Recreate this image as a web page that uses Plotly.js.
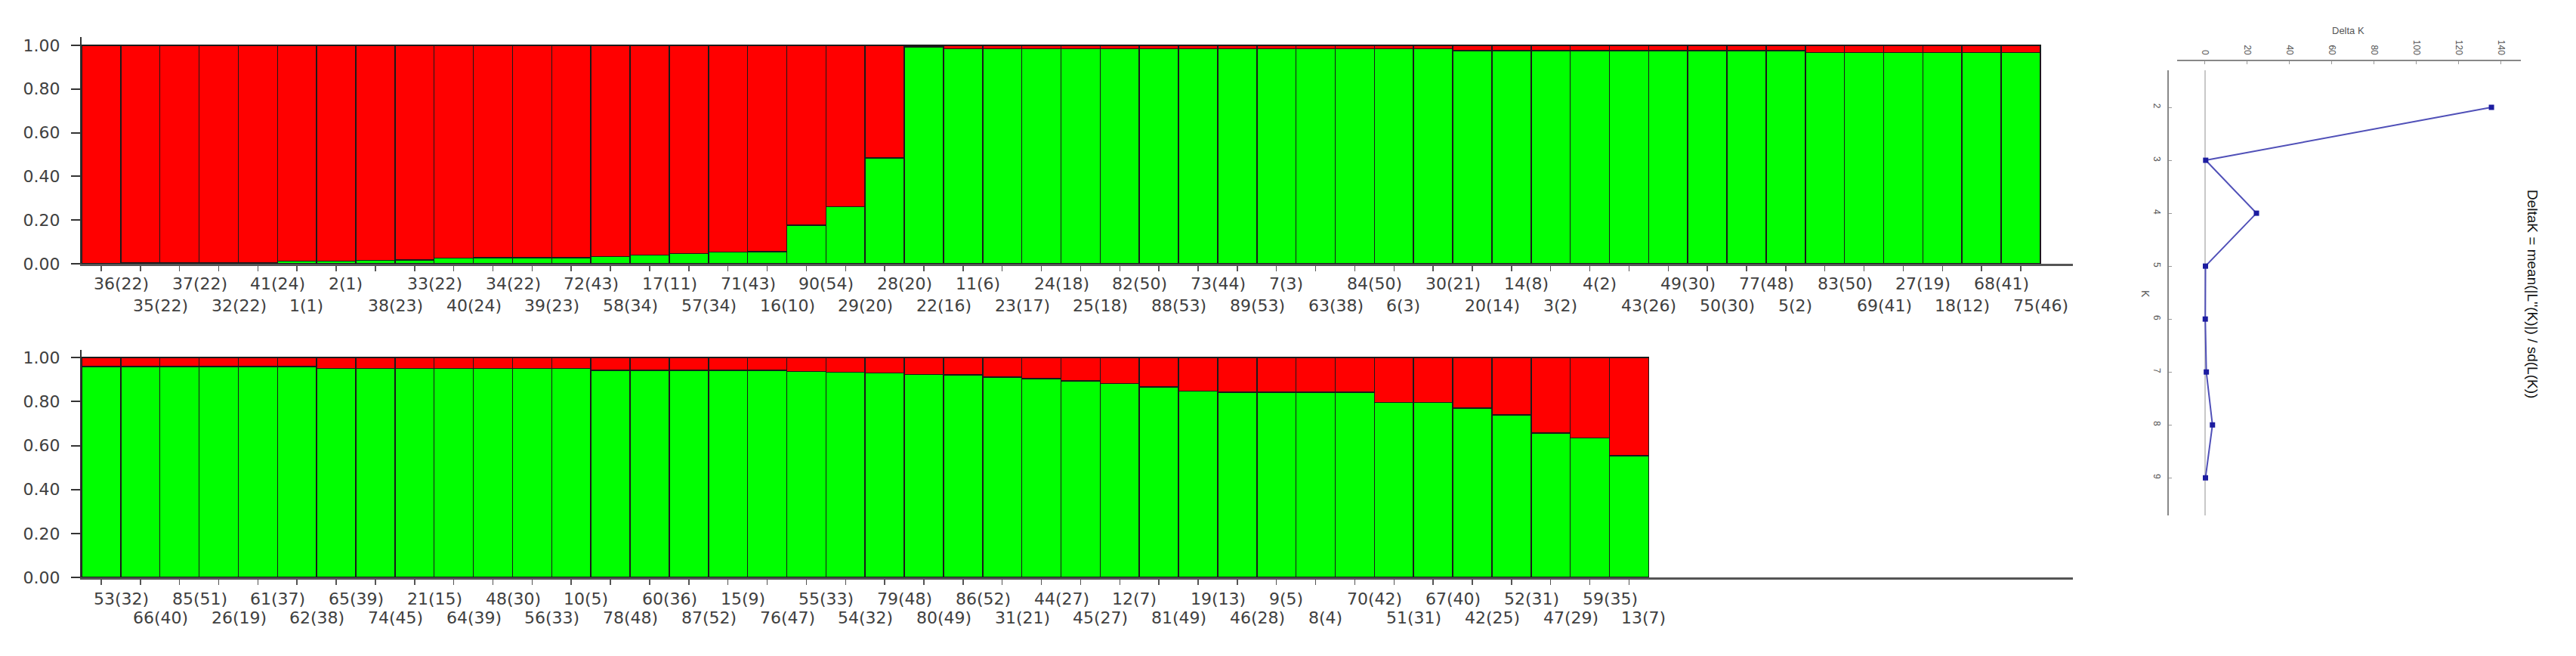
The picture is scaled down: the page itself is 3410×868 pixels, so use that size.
<!DOCTYPE html>
<html>
<head>
<meta charset="utf-8">
<script src="https://cdn.plot.ly/plotly-3.0.1.min.js"></script>
<style>html,body{margin:0;padding:0;background:#fff;}#chart{width:3410px;height:868px;}</style>
</head>
<body>
<div id="chart"></div>
<script>
// ---- Top panel (K=2 membership, 50 individuals) ----
const topLabels = ["36(22)","35(22)","37(22)","32(22)","41(24)","1(1)","2(1)","38(23)","33(22)","40(24)",
  "34(22)","39(23)","72(43)","58(34)","17(11)","57(34)","71(43)","16(10)","90(54)","29(20)",
  "28(20)","22(16)","11(6)","23(17)","24(18)","25(18)","82(50)","88(53)","73(44)","89(53)",
  "7(3)","63(38)","84(50)","6(3)","30(21)","20(14)","14(8)","3(2)","4(2)","43(26)",
  "49(30)","50(30)","77(48)","5(2)","83(50)","69(41)","27(19)","18(12)","68(41)","75(46)"];
const topGreen = [0.002,0.006,0.006,0.006,0.006,0.012,0.012,0.016,0.017,0.026,
  0.027,0.027,0.028,0.033,0.040,0.046,0.054,0.056,0.177,0.262,
  0.485,0.993,0.984,0.984,0.984,0.984,0.984,0.984,0.984,0.984,
  0.984,0.984,0.984,0.984,0.984,0.975,0.975,0.975,0.975,0.975,
  0.975,0.975,0.975,0.975,0.967,0.967,0.967,0.967,0.967,0.967];

// ---- Bottom panel (40 individuals) ----
const botLabels = ["53(32)","66(40)","85(51)","26(19)","61(37)","62(38)","65(39)","74(45)","21(15)","64(39)",
  "48(30)","56(33)","10(5)","78(48)","60(36)","87(52)","15(9)","76(47)","55(33)","54(32)",
  "79(48)","80(49)","86(52)","31(21)","44(27)","45(27)","12(7)","81(49)","19(13)","46(28)",
  "9(5)","8(4)","70(42)","51(31)","67(40)","42(25)","52(31)","47(29)","59(35)","13(7)"];
const botGreen = [0.960,0.960,0.960,0.960,0.960,0.960,0.951,0.951,0.951,0.951,
  0.951,0.951,0.951,0.943,0.943,0.943,0.943,0.943,0.937,0.933,
  0.931,0.923,0.922,0.911,0.905,0.894,0.882,0.867,0.847,0.842,
  0.842,0.842,0.842,0.796,0.796,0.771,0.740,0.656,0.634,0.554];

// ---- Delta K (Evanno) ----
const kValues = [2,3,4,5,6,7,8,9];
const deltaK = [135.4,0.3,24.3,0.2,0.1,0.6,3.5,0.2];

const yTicks = [0,0.2,0.4,0.6,0.8,1.0];
const dkTicks = [0,20,40,60,80,100,120,140];

const GREEN = '#00ff00', RED = '#ff0000';
const outline = {color:'#1a1a1a', width:1.5};
const txt = '#404040';
const mainFont = 'DejaVu Sans, Verdana, sans-serif';

const traces = [
  {type:'bar', x:topLabels, y:topGreen, marker:{color:GREEN, line:outline}, xaxis:'x', yaxis:'y', hoverinfo:'skip'},
  {type:'bar', x:topLabels, y:topGreen.map(v=>1-v), marker:{color:RED, line:outline}, xaxis:'x', yaxis:'y', hoverinfo:'skip'},
  {type:'bar', x:botLabels, y:botGreen, marker:{color:GREEN, line:outline}, xaxis:'x2', yaxis:'y2', hoverinfo:'skip'},
  {type:'bar', x:botLabels, y:botGreen.map(v=>1-v), marker:{color:RED, line:outline}, xaxis:'x2', yaxis:'y2', hoverinfo:'skip'},
  {type:'scatter', mode:'lines+markers', x:deltaK, y:kValues, xaxis:'x3', yaxis:'y3',
   line:{color:'#5050b8', width:2}, marker:{symbol:'square', size:7, color:'#1c1ca0'}, hoverinfo:'skip'}
];

const W = 3410, H = 868;
const px = v => v / W;
const py = v => (H - v) / H;

function barX(anchor){
  return {domain:[px(108), px(2744)], range:[-0.5, 50.33], type:'category', anchor:anchor,
    showline:true, linecolor:'#555', linewidth:2.5, ticks:'outside', ticklen:7, tickwidth:1.5, tickcolor:'#555',
    showticklabels:false, showgrid:false, zeroline:false, fixedrange:true};
}
function barY(anchor, top, bottom, rmax){
  return {domain:[py(bottom), py(top)], range:[0, rmax], anchor:anchor,
    tickvals:yTicks, ticktext:yTicks.map(v=>v.toFixed(2)),
    showline:true, linecolor:'#333', linewidth:2, ticks:'outside', ticklen:12, tickwidth:2, tickcolor:'#333',
    tickfont:{family:mainFont, size:22, color:txt}, ticklabelstandoff:10,
    showgrid:false, zeroline:false, fixedrange:true};
}

const annotations = [];
function addLabels(labels, xref, yref, dyTop, dyBot){
  labels.forEach((lab, i) => {
    annotations.push({x:lab, y:0, xref:xref, yref:yref, text:lab, showarrow:false,
      xanchor:'left', yanchor:'middle', xshift:-12, yshift:(i % 2 === 0 ? dyTop : dyBot),
      font:{family:mainFont, size:22, color:txt}});
  });
}
addLabels(topLabels, 'x', 'y', -27, -56);
addLabels(botLabels, 'x2', 'y2', -28, -53);

annotations.push({xref:'paper', yref:'paper', x:px(3108), y:py(41), text:'Delta K', showarrow:false,
  xanchor:'center', yanchor:'middle', font:{family:'Liberation Sans, Arial, sans-serif', size:13, color:'#555'}});
annotations.push({xref:'paper', yref:'paper', x:px(2840), y:py(389), text:'K', showarrow:false, textangle:90,
  xanchor:'center', yanchor:'middle', font:{family:'Liberation Sans, Arial, sans-serif', size:14, color:'#555'}});
annotations.push({xref:'paper', yref:'paper', x:px(3353), y:py(389), text:"DeltaK = mean(|L''(K)|) / sd(L(K))",
  showarrow:false, textangle:90, xanchor:'center', yanchor:'middle',
  font:{family:'Liberation Sans, Arial, sans-serif', size:19, color:'#111'}});

const layout = {
  width:W, height:H, autosize:false, margin:{l:0,r:0,t:0,b:0,pad:0},
  paper_bgcolor:'#fff', plot_bgcolor:'rgba(0,0,0,0)', showlegend:false,
  barmode:'stack', bargap:0,
  xaxis: barX('y'),
  yaxis: barY('x', 49, 349, 1.038),
  xaxis2: barX('y2'),
  yaxis2: barY('x2', 463, 764, 1.035),
  xaxis3: {domain:[px(2882), px(3337)], range:[-13.2, 149.3], anchor:'free', position:py(80), side:'top',
    tickvals:dkTicks, ticktext:dkTicks.map(String), tickangle:90,
    showline:true, linecolor:'#888', linewidth:2, ticks:'inside', ticklen:4, tickcolor:'#999',
    tickfont:{family:'Liberation Sans, Arial, sans-serif', size:12, color:'#555'}, ticklabelstandoff:2,
    showgrid:false, zeroline:true, zerolinecolor:'#c8c8c8', zerolinewidth:1.5, fixedrange:true},
  yaxis3: {domain:[py(682), py(93)], range:[9.71, 1.3], anchor:'free', position:px(2870),
    tickvals:kValues, ticktext:kValues.map(String), tickangle:90,
    showline:true, linecolor:'#888', linewidth:2, ticks:'inside', ticklen:4, tickcolor:'#999',
    tickfont:{family:'Liberation Sans, Arial, sans-serif', size:12, color:'#555'}, ticklabelstandoff:4,
    showgrid:false, zeroline:false, fixedrange:true},
  annotations: annotations
};

Plotly.newPlot('chart', traces, layout, {staticPlot:true, displayModeBar:false});
</script>
</body>
</html>
